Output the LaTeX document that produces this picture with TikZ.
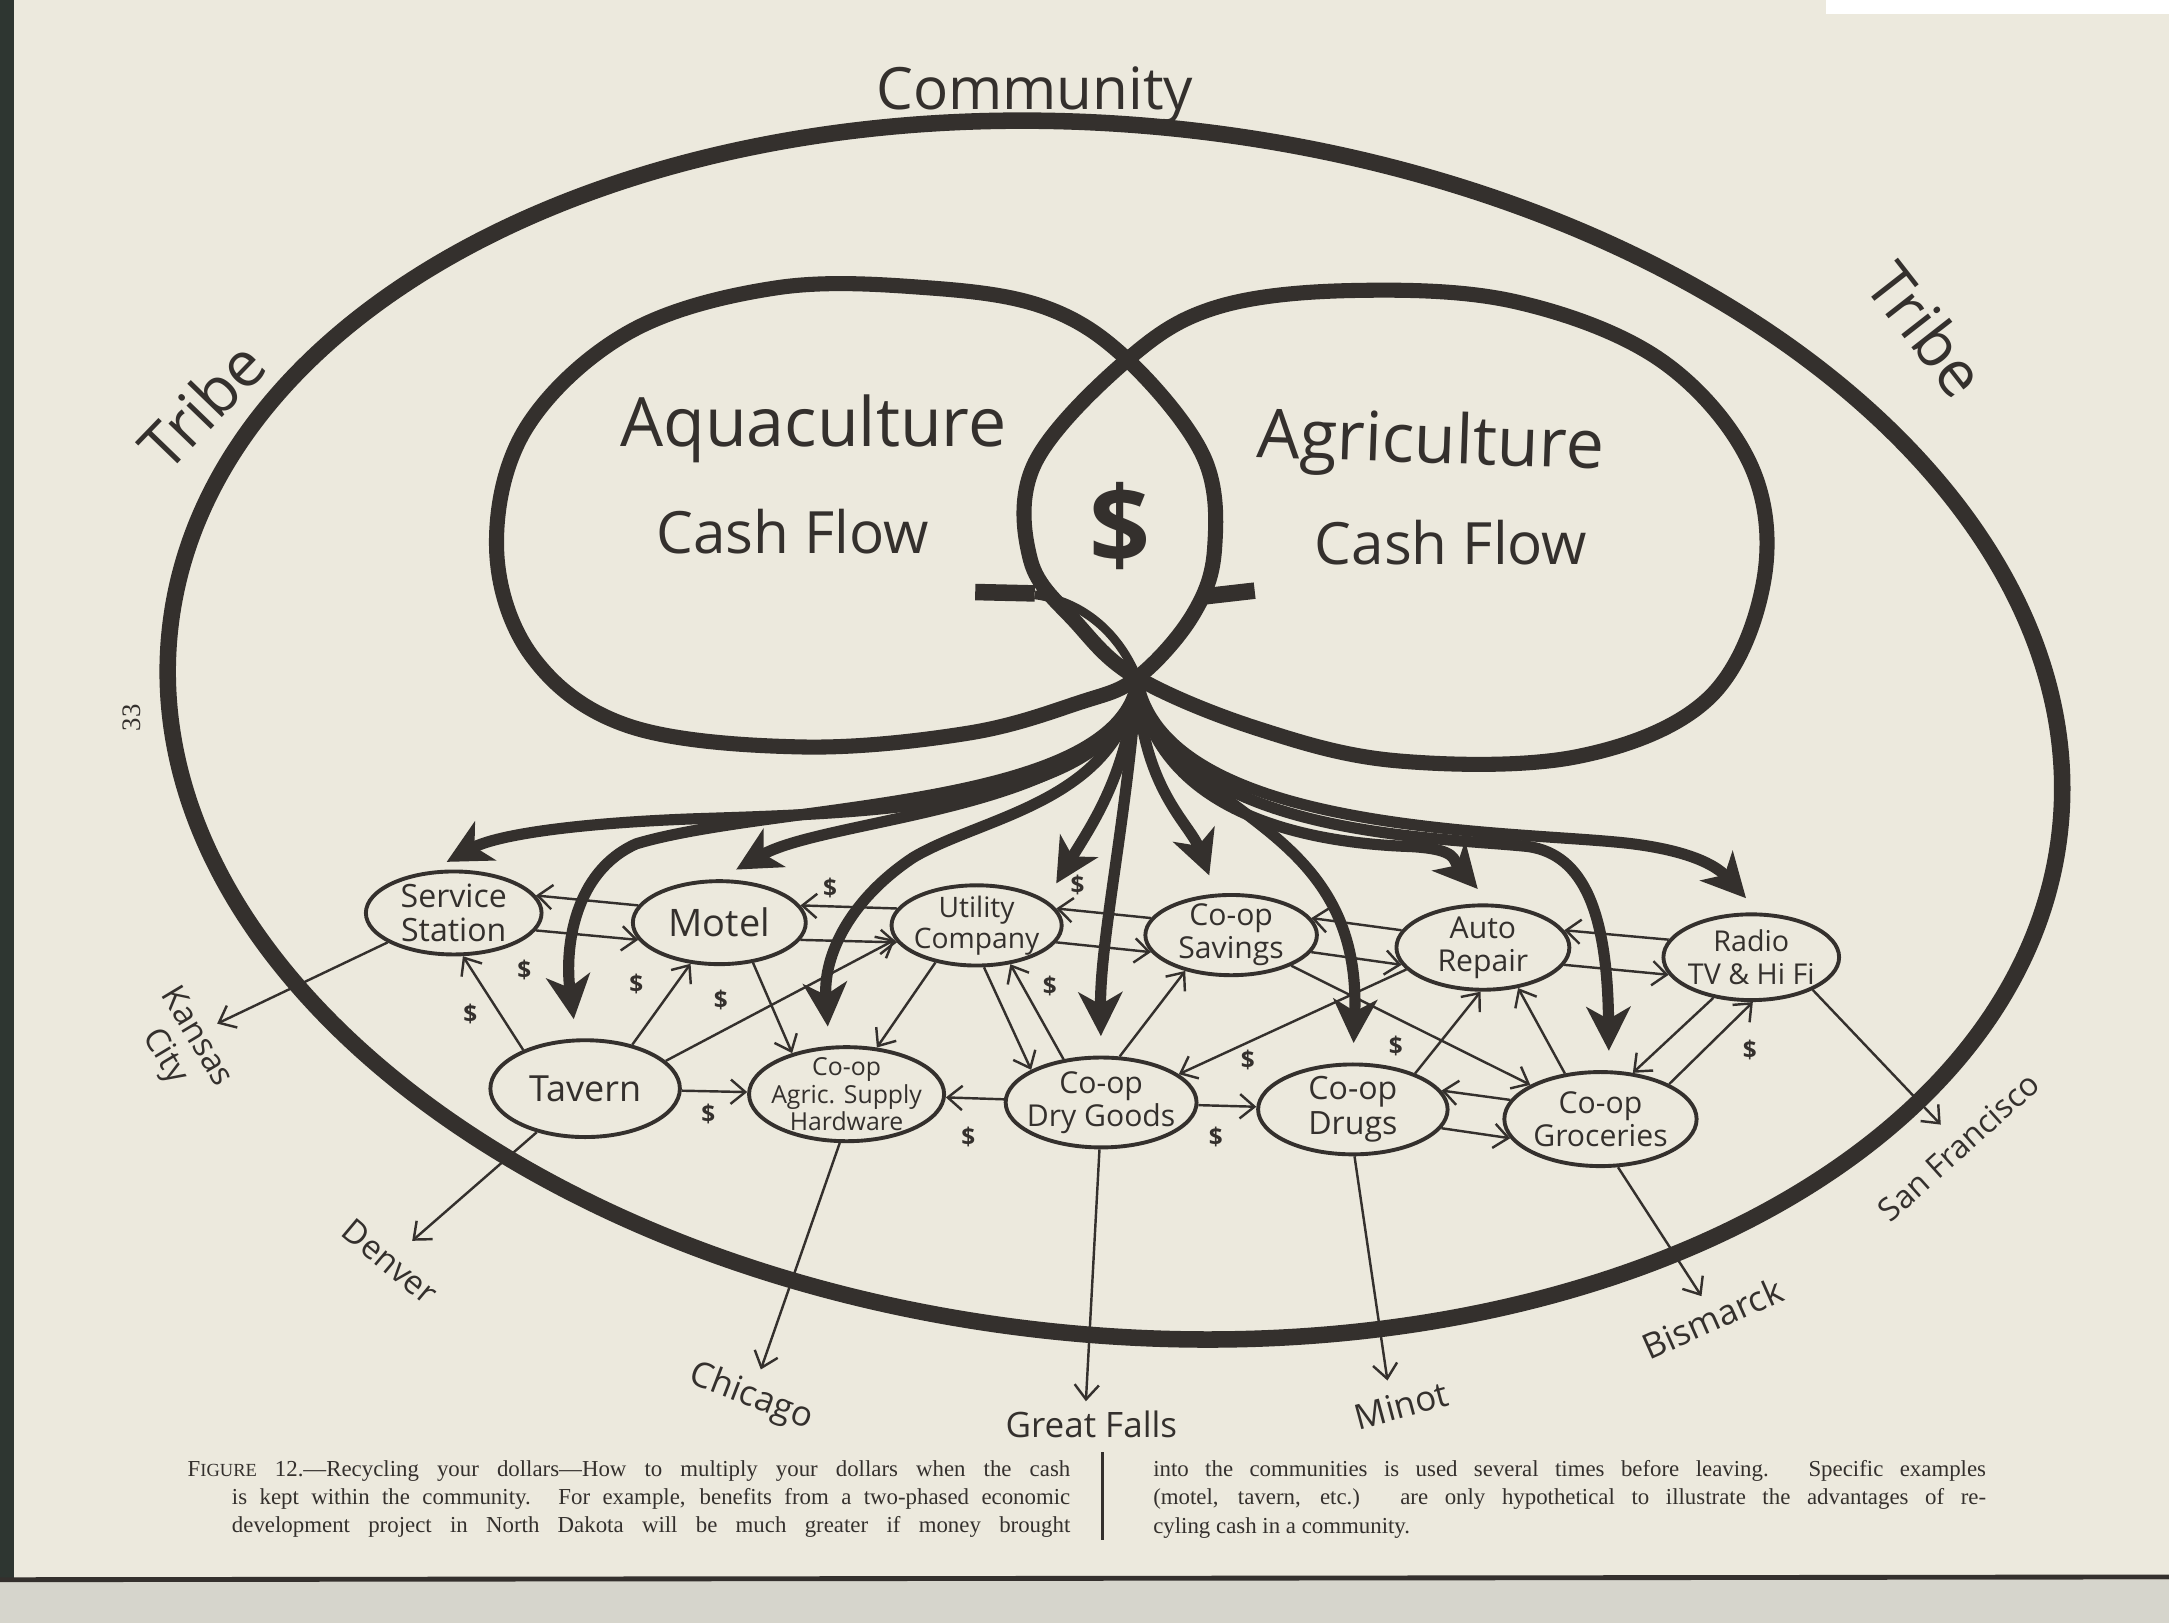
\documentclass[tikz,border=0pt]{standalone}
\usepackage{fontspec}
\setmainfont{Liberation Serif}
\newfontfamily\hand{Open Sans}
\usetikzlibrary{shapes.geometric,arrows.meta}
\definecolor{paper}{RGB}{236,233,221}
\definecolor{ink}{RGB}{52,48,45}
\definecolor{binding}{RGB}{46,54,49}
\definecolor{pageedge}{RGB}{214,213,204}
\tikzset{
  shop/.style={ellipse,draw,line width=.8pt,inner sep=-4pt,align=center,font=\hand\fontsize{6.2}{6.8}\selectfont},
  flow/.style={line width=.5pt,-{Straight Barb[length=3pt,width=5pt]}},
  money/.style={line width=2.3pt,-{Stealth[length=9pt,width=9pt,inset=2.5pt]},shorten >=4pt},
  lobe/.style={line width=3.1pt},
  town/.style={font=\hand\fontsize{7.2}{8}\selectfont},
  cash/.style={font=\hand\bfseries\fontsize{5}{5}\selectfont}
}
\begin{document}
\begin{tikzpicture}[color=ink]
\useasboundingbox (0,0) rectangle (15.68,-11.73);
\fill[paper] (0,0) rectangle (15.68,-11.73);
\fill[white] (13.20,0) rectangle (15.68,-0.10);
\fill[binding] (0,0) rectangle (0.10,-11.42);
\fill[pageedge] (0,-11.42) rectangle (15.68,-11.73);
\draw[line width=1pt] (0,-11.42) -- (15.68,-11.40);

\draw[line width=3.4pt,rotate around={-6:(8.08,-5.28)}] (8.06,-5.28) ellipse (6.87 and 4.37);
\node[font=\hand\fontsize{12}{12}\selectfont] (community) at (7.48,-0.69) {Community};
\node[font=\hand\fontsize{13}{13}\selectfont,rotate=46] (tribeL) at (1.46,-2.93) {Tribe};
\node[font=\hand\fontsize{13}{13}\selectfont,rotate=-52] (tribeR) at (13.93,-2.38) {Tribe};
\node[rotate=90,font=\fontsize{5.5}{6}\selectfont] (pg) at (0.95,-5.19) {33};

\draw[lobe] plot[smooth cycle,tension=.6] coordinates {(8.22,-4.90) (8.62,-4.45) (8.78,-3.97) (8.70,-3.30) (8.15,-2.60) (7.55,-2.22) (6.70,-2.08) (5.62,-2.08) (4.55,-2.40) (3.80,-3.10) (3.59,-3.97) (3.85,-4.75) (4.55,-5.25) (5.80,-5.40) (7.00,-5.30) (7.80,-5.08)};
\draw[lobe] plot[smooth cycle,tension=.6] coordinates {(8.22,-4.90) (7.78,-4.50) (7.45,-4.05) (7.48,-3.35) (8.15,-2.60) (8.80,-2.22) (9.79,-2.10) (10.95,-2.18) (12.00,-2.60) (12.65,-3.35) (12.75,-4.20) (12.35,-5.05) (11.40,-5.47) (10.10,-5.50) (9.10,-5.27)};
\coordinate (knot) at (8.22,-4.90);
\draw[line width=3.4pt] (7.05,-4.28) -- (7.48,-4.29);
\draw[line width=3.4pt] (8.72,-4.31) -- (9.07,-4.27);
\draw[line width=1.8pt] (7.48,-4.30) .. controls (7.85,-4.35) and (8.10,-4.60) .. (knot);
\node[font=\hand\bfseries\fontsize{22}{22}\selectfont] (bigdollar) at (8.10,-3.80) {\$};
\node[font=\hand\fontsize{14}{14}\selectfont] (aqua) at (5.88,-3.10) {Aquaculture};
\node[font=\hand\fontsize{12}{12}\selectfont] (aquacash) at (5.73,-3.84) {Cash Flow};
\node[font=\hand\fontsize{14}{14}\selectfont,rotate=-2] (agri) at (10.34,-3.22) {Agriculture};
\node[font=\hand\fontsize{12}{12}\selectfont] (agricash) at (10.49,-3.92) {Cash Flow};

\node[shop,minimum width=1.27cm,minimum height=.60cm,font=\hand\fontsize{6.6}{7.1}\selectfont] (ss) at (3.28,-6.60) {Service\\Station};
\node[shop,minimum width=1.25cm,minimum height=.60cm,font=\hand\fontsize{7.8}{8}\selectfont] (motel) at (5.20,-6.67) {Motel};
\node[shop,minimum width=1.23cm,minimum height=.58cm,font=\hand\fontsize{5.8}{6.3}\selectfont] (utility) at (7.06,-6.69) {Utility\\Company};
\node[shop,minimum width=1.24cm,minimum height=.58cm] (savings) at (8.90,-6.76) {Co-op\\Savings};
\node[shop,minimum width=1.25cm,minimum height=.61cm] (auto) at (10.72,-6.85) {Auto\\Repair};
\node[shop,minimum width=1.27cm,minimum height=.62cm,font=\hand\fontsize{5.9}{6.6}\selectfont] (radio) at (12.66,-6.92) {Radio\\TV \& Hi Fi};
\node[shop,minimum width=1.37cm,minimum height=.70cm,font=\hand\fontsize{7.4}{8}\selectfont] (tavern) at (4.23,-7.87) {Tavern};
\node[shop,minimum width=1.41cm,minimum height=.68cm,font=\hand\fontsize{5.1}{5.6}\selectfont] (agric) at (6.12,-7.91) {Co-op\\Agric. Supply\\Hardware};
\node[shop,minimum width=1.38cm,minimum height=.65cm] (drygoods) at (7.96,-7.97) {Co-op\\Dry Goods};
\node[shop,minimum width=1.37cm,minimum height=.65cm,font=\hand\fontsize{6.6}{7.2}\selectfont] (drugs) at (9.78,-8.02) {Co-op\\Drugs};
\node[shop,minimum width=1.39cm,minimum height=.68cm] (groceries) at (11.57,-8.09) {Co-op\\Groceries};

\draw[flow] (motel.168) -- (ss.12);
\draw[flow] (ss.-12) -- (motel.192);
\draw[flow] (utility.168) -- (motel.12);
\draw[flow] (motel.-12) -- (utility.192);
\draw[flow] (savings.168) -- (utility.12);
\draw[flow] (utility.-12) -- (savings.192);
\draw[flow] (auto.168) -- (savings.12);
\draw[flow] (savings.-12) -- (auto.192);
\draw[flow] (radio.168) -- (auto.12);
\draw[flow] (auto.-12) -- (radio.192);
\draw[flow] (tavern) -- (agric);
\draw[flow] (drygoods) -- (agric);
\draw[flow] (drygoods) -- (drugs);
\draw[flow] (groceries.168) -- (drugs.12);
\draw[flow] (drugs.-12) -- (groceries.192);
\draw[flow] (tavern.148) -- (ss.-78);
\draw[flow] (tavern.43) -- (motel.235);
\draw[flow] (tavern.19) -- (utility.190);
\draw[flow] (motel.-50) -- (agric.143);
\draw[flow] (utility.222) -- (agric.57);
\draw[flow] (utility.-80) -- (drygoods.155);
\draw[flow] (drygoods.131) -- (utility.-49);
\draw[flow] (drygoods.68) -- (savings.218);
\draw[flow] (auto.196) -- (drygoods.20);
\draw[flow] (savings.-27) -- (groceries.154);
\draw[flow] (drugs.30) -- (auto.-93);
\draw[flow] (groceries.128) -- (auto.-49);
\draw[flow] (radio.227) -- (groceries.55);
\draw[flow] (groceries.27) -- (radio.-88);

\foreach \x/\y [count=\i] in {6.00/-6.42,7.79/-6.40,3.79/-7.01,4.60/-7.11,5.21/-7.23,3.40/-7.33,7.59/-7.13,9.02/-7.66,10.09/-7.56,5.12/-8.05,7.00/-8.22,8.79/-8.22,12.65/-7.59}
  \node[cash] (d\i) at (\x,\y) {\$};

\coordinate (kcTip) at (1.57,-7.40);
\coordinate (denverTip) at (2.98,-8.97);
\coordinate (chicagoTip) at (5.50,-9.90);
\coordinate (gfallsTip) at (7.85,-10.13);
\coordinate (minotTip) at (10.03,-9.98);
\coordinate (bismarckTip) at (12.30,-9.37);
\coordinate (sanfranTip) at (14.03,-8.13);
\draw[flow] (ss.204) -- (kcTip);
\draw[flow] (tavern.222) -- (denverTip);
\draw[flow] (agric.262) -- (chicagoTip);
\draw[flow] (drygoods.268) -- (gfallsTip);
\draw[flow] (drugs.272) -- (minotTip);
\draw[flow] (groceries.290) -- (bismarckTip);
\draw[flow] (radio.-28) -- (sanfranTip);
\node[town,rotate=-59,align=center,font=\hand\fontsize{6.8}{7.6}\selectfont] (kc) at (1.30,-7.57) {Kansas\\City};
\node[town,rotate=-40,font=\hand\fontsize{6.8}{7.6}\selectfont] (denver) at (2.82,-9.12) {Denver};
\node[town,rotate=-21] (chicago) at (5.43,-10.10) {Chicago};
\node[town] (gfalls) at (7.89,-10.30) {Great Falls};
\node[town,rotate=15] (minot) at (10.13,-10.16) {Minot};
\node[town,rotate=24] (bismarck) at (12.38,-9.53) {Bismarck};
\node[town,rotate=42,font=\hand\fontsize{6.6}{7}\selectfont] (sanfran) at (14.16,-8.29) {San Francisco};

\draw[money] (knot) .. controls (8.15,-5.85) and (6.20,-5.88) .. (5.00,-5.92) .. controls (4.20,-5.95) and (3.60,-6.03) .. (ss.120);
\draw[money] (knot) .. controls (8.12,-5.85) and (6.00,-5.90) .. (motel.north);
\draw[money] (knot) .. controls (8.12,-5.85) and (5.60,-5.80) .. (4.60,-6.10) .. controls (4.15,-6.30) and (4.08,-6.85) .. (tavern.100);
\draw[money] (knot) .. controls (8.10,-5.80) and (7.10,-5.90) .. (6.60,-6.20) .. controls (6.15,-6.50) and (5.95,-6.90) .. (agric.110);
\draw[money] (knot) .. controls (8.15,-5.60) and (7.90,-5.95) .. (utility.20);
\draw[money] (knot) .. controls (8.15,-5.90) and (7.95,-6.80) .. (drygoods.north);
\draw[money] (knot) .. controls (8.25,-5.70) and (8.60,-5.95) .. (savings.110);
\draw[money] (knot) .. controls (8.35,-5.90) and (9.85,-5.85) .. (drugs.north);
\draw[money] (knot) .. controls (8.35,-5.95) and (9.60,-6.10) .. (10.20,-6.12) .. controls (10.55,-6.14) and (10.50,-6.22) .. (auto.80);
\draw[money] (knot) .. controls (8.40,-6.05) and (10.40,-6.05) .. (11.05,-6.12) .. controls (11.45,-6.18) and (11.62,-6.60) .. (groceries.80);
\draw[money] (knot) .. controls (8.40,-6.05) and (11.00,-6.00) .. (11.80,-6.10) .. controls (12.20,-6.15) and (12.40,-6.25) .. (radio.80);

\node[anchor=north west,inner sep=0pt,align=left,font=\fontsize{4.7}{5.83}\selectfont] (capL) at (1.35,-10.55) {\makebox[6.38cm][s]{F{\fontsize{3.8}{4}\selectfont IGURE} 12.---Recycling your dollars---How to multiply your dollars when the cash}\\
\hspace*{.32cm}\makebox[6.06cm][s]{is kept within the community. For example, benefits from a two-phased economic}\\
\hspace*{.32cm}\makebox[6.06cm][s]{development project in North Dakota will be much greater if money brought}};
\node[anchor=north west,inner sep=0pt,align=left,font=\fontsize{4.7}{5.83}\selectfont] (capR) at (8.33,-10.55) {\makebox[6.02cm][s]{into the communities is used several times before leaving. Specific examples}\\
\makebox[6.02cm][s]{(motel, tavern, etc.) are only hypothetical to illustrate the advantages of re-}\\
cyling cash in a community.};
\draw[line width=.5pt] (7.97,-10.50) -- (7.97,-11.13);
\end{tikzpicture}
\end{document}
